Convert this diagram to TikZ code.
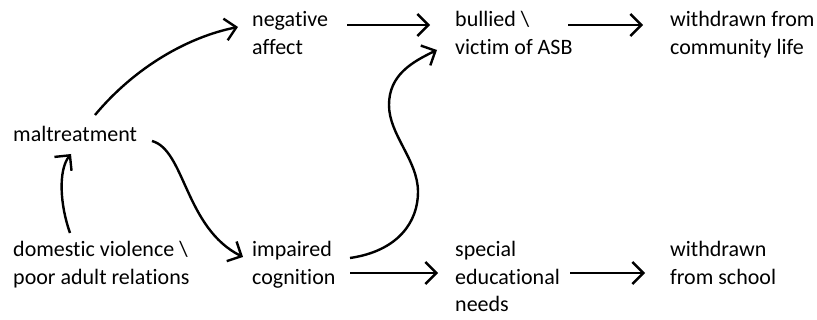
\documentclass[tikz,border=0pt]{standalone}
\usepackage{fontspec}
\setmainfont[Ligatures=NoCommon]{Carlito}
\usetikzlibrary{arrows.meta,calc}
\newcommand\stk[1]{\begin{tabular}[t]{@{}l@{}}#1\end{tabular}}
\begin{document}
\begin{tikzpicture}[x=1pt,y=-1pt,
  lbl/.style={anchor=base west,inner sep=0pt,
    font=\fontsize{22}{27.5}\selectfont},
  arr/.style={line width=2.4pt,-{Straight Barb[length=11pt,width=22pt,line width=2.4pt]}}]
\useasboundingbox (0,0) rectangle (817,320);
\node[lbl] (mal) at (13,142) {maltreatment};
\node[lbl] (neg) at (252,27) {\stk{negative\\affect}};
\node[lbl] (bul) at (455,27) {\stk{bullied \textbackslash\\victim of ASB}};
\node[lbl] (wcl) at (670,27) {\stk{withdrawn from\\community life}};
\node[lbl] (dom) at (13,257) {\stk{domestic violence \textbackslash\\poor adult relations}};
\node[lbl] (imp) at (252,257) {\stk{impaired\\cognition}};
\node[lbl] (sen) at (455,257) {\stk{special\\educational\\needs}};
\node[lbl] (wsc) at (670,257) {\stk{withdrawn\\from school}};
% straight arrows
\draw[arr] ($(neg.base west)+(95,-2)$) -- ($(bul.base west)+(-25,-2)$);
\draw[arr] ($(bul.base west)+(113,-2)$) -- ($(wcl.base west)+(-27,-2)$);
\draw[arr] ($(imp.base west)+(98,16)$) -- ($(sen.base west)+(-17,16)$);
\draw[arr] ($(sen.base west)+(115,16)$) -- ($(wsc.base west)+(-25,16)$);
% curved arrows
\draw[arr] ($(mal.base west)+(82,-27)$) .. controls ($(mal.base west)+(122,-75)$) and ($(neg.base west)+(-64,10)$) .. ($(neg.base west)+(-14,0)$);
\draw[arr] ($(mal.base west)+(139,-1)$) .. controls ($(mal.base west)+(172,8)$) and ($(imp.base west)+(-67,-29)$) .. ($(imp.base west)+(-9,0)$);
\draw[arr] ($(dom.base west)+(57,-24)$) .. controls ($(dom.base west)+(47,-52)$) and ($(mal.base west)+(45,28)$) .. ($(mal.base west)+(58,12)$);
\draw[arr] ($(imp.base west)+(98,1)$) .. controls ($(imp.base west)+(146,-6)$) and (418,222) .. (418,192)
  .. controls (418,160) and (389,135) .. (389,105)
  .. controls (389,75) and (412,62) .. ($(bul.base west)+(-18,23)$);
\end{tikzpicture}
\end{document}
